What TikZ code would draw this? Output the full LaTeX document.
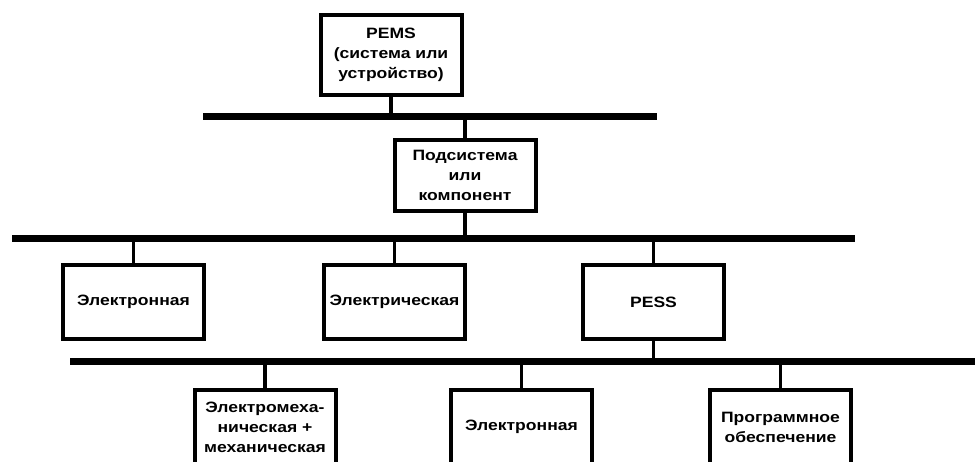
\documentclass[tikz,border=0pt]{standalone}
\usepackage{fontspec}
\setmainfont[FakeStretch=1.17]{Liberation Sans}
\usetikzlibrary{positioning}

\begin{document}
\begin{tikzpicture}[x=1pt,y=-1pt,
    unit/.style={draw,line width=4pt,minimum width=141pt,minimum height=74pt,
                 inner sep=2pt,align=center,
                 font=\bfseries\fontsize{15}{20}\selectfont},
    bus/.style={line width=7pt},
    link/.style={line width=3.5pt}]
  \useasboundingbox (0,0) rectangle (975,461);
  \clip (0,0) rectangle (975,461);
  % buses
  \coordinate (b1w) at (203,116); \coordinate (b1e) at (657,116);
  \coordinate (b2w) at (12,238);  \coordinate (b2e) at (855,238);
  \coordinate (b3w) at (70,361);  \coordinate (b3e) at (980,361);
  \draw[bus] (b1w) -- (b1e);
  \draw[bus] (b2w) -- (b2e);
  \draw[bus] (b3w) -- (b3e);
  % blocks
  \node[unit,minimum height=80pt] (pems) at (391,55) {PEMS\\(система или\\устройство)};
  \node[unit,minimum height=71pt] (sub) at (465,175.5) {Подсистема\\или\\компонент};
  \node[unit] (elo) at (133.5,302) {Электронная};
  \node[unit] (ele) at (394.5,302) {Электрическая};
  \node[unit] (pess) at (653.5,302) {PESS};
  \node[unit] (emech) at (265,427) {Электромеха-\\ническая +\\механическая};
  \node[unit] (elo2) at (521.5,427) {Электронная};
  \node[unit] (soft) at (780.5,427) {Программное\\обеспечение};
  % links
  \draw[link] (pems) -- (pems |- b1w);
  \draw[link] (sub |- b1w) -- (sub);
  \draw[link] (sub) -- (sub |- b2w);
  \foreach \n in {elo,ele,pess}
    \draw[link] (\n |- b2w) -- (\n);
  \draw[link] (pess) -- (pess |- b3w);
  \foreach \n in {emech,elo2,soft}
    \draw[link] (\n |- b3w) -- (\n);
\end{tikzpicture}
\end{document}
